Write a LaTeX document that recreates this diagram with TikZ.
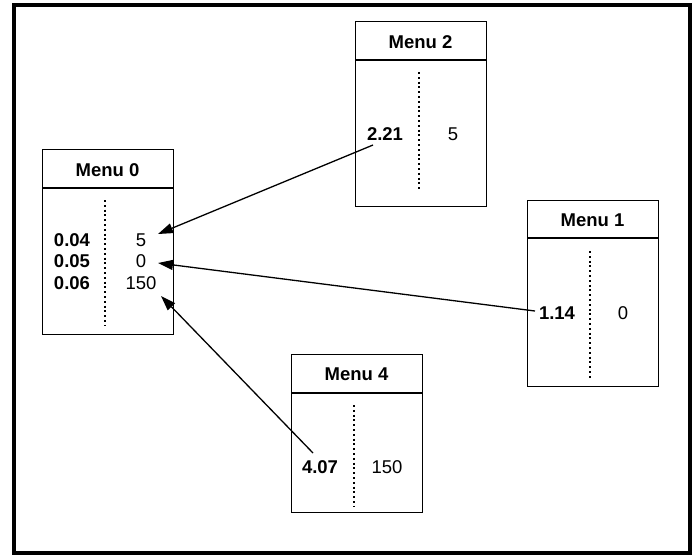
\documentclass[tikz,border=0pt]{standalone}
\usepackage{fontspec}
\setmainfont{Liberation Sans}
\usetikzlibrary{arrows.meta}
\begin{document}
\begin{tikzpicture}[x=1pt,y=-1pt,
  box/.style={draw, line width=1.4pt, minimum width=131pt, anchor=north west, inner sep=0pt},
  hdr/.style={line width=2pt},
  title/.style={font=\bfseries\fontsize{18.5}{22}\selectfont},
  key/.style={font=\bfseries\fontsize{18.5}{22}\selectfont, inner sep=1pt},
  val/.style={font=\fontsize{18.5}{22}\selectfont, inner sep=1pt},
  dots/.style={line width=2pt, dash pattern=on 2pt off 2.8pt},
  arr/.style={line width=1.3pt, -{Triangle[length=15pt,width=10pt]}}]
\useasboundingbox (0,0) rectangle (698,558);
\draw[line width=4pt] (14,5) rectangle (690,553);

% Menu 0
\node[box, minimum height=185pt] (m0) at (42,149) {};
\draw[hdr] (42,188) -- (173,188);
\node[title] (t0) at (107.5,170) {Menu 0};
\draw[dots] (105,200) -- (105,326);
\node[key] (k04) at (72,240) {0.04};
\node[key] (k05) at (72,261) {0.05};
\node[key] (k06) at (72,283) {0.06};
\node[val] (v04) at (141,240) {5};
\node[val] (v05) at (141,261) {0};
\node[val] (v06) at (141,283) {150};

% Menu 2
\node[box, minimum height=185pt] (m2) at (355,21) {};
\draw[hdr] (355,60) -- (486,60);
\node[title] (t2) at (420.5,42) {Menu 2};
\draw[dots] (419,72) -- (419,191);
\node[key] (k221) at (385,134) {2.21};
\node[val] (v221) at (453,134) {5};

% Menu 1
\node[box, minimum height=186pt] (m1) at (527,200) {};
\draw[hdr] (527,238) -- (658,238);
\node[title] (t1) at (592.5,220) {Menu 1};
\draw[dots] (590,251) -- (590,378);
\node[key] (k114) at (557,313) {1.14};
\node[val] (v114) at (623,313) {0};

% Menu 4
\node[box, minimum height=158pt] (m4) at (291,354) {};
\draw[hdr] (291,393) -- (422,393);
\node[title] (t4) at (356.5,374) {Menu 4};
\draw[dots] (354,405) -- (354,506);
\node[key] (k407) at (320,467) {4.07};
\node[val] (v407) at (387,467) {150};

% connectors
\coordinate (s2) at (373,145);
\coordinate (e2) at (158,234);
\coordinate (s1) at (535,311);
\coordinate (e1) at (158,263);
\coordinate (s4) at (313,453);
\coordinate (e4) at (161,296);
\draw[arr] (s2) -- (e2);
\draw[arr] (s1) -- (e1);
\draw[arr] (s4) -- (e4);
\end{tikzpicture}
\end{document}
